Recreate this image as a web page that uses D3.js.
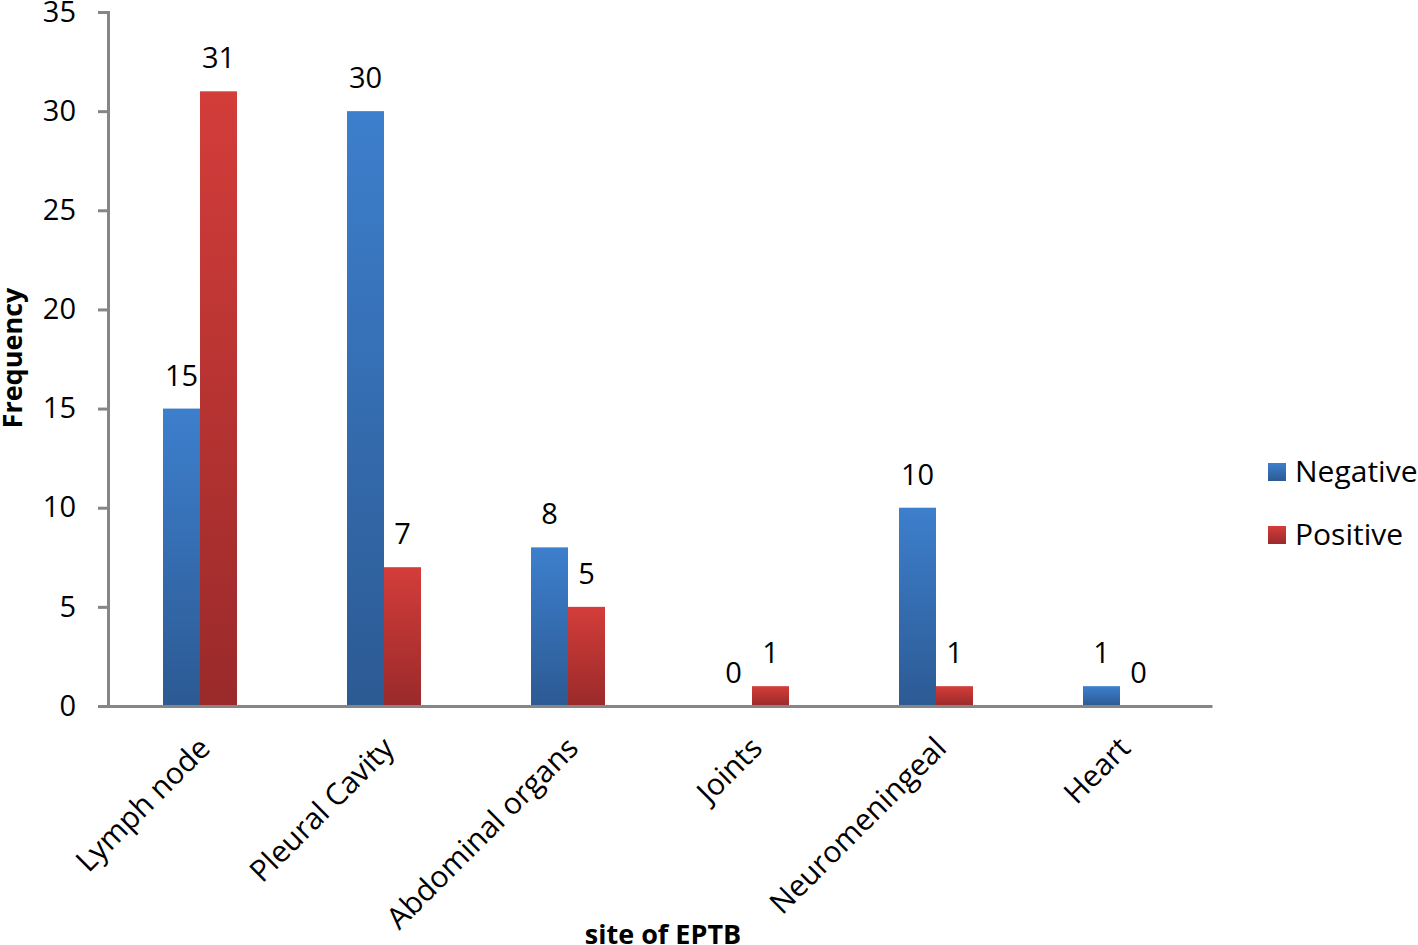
<!DOCTYPE html>
<html>
<head>
<meta charset="utf-8">
<script src="https://cdn.jsdelivr.net/npm/d3@7"></script>
<style>
  body { margin: 0; background: #fff; }
  svg { display: block; font-family: "Open Sans", sans-serif; }
</style>
</head>
<body>
<div id="chart"></div>
<script>
var categories = ["Lymph node", "Pleural Cavity", "Abdominal organs", "Joints", "Neuromeningeal", "Heart"];
var seriesNames = ["Negative", "Positive"];
var negative = [15, 30, 8, 0, 10, 1];
var positive = [31, 7, 5, 1, 1, 0];
var yTicks = [0, 5, 10, 15, 20, 25, 30, 35];

var width = 1418, height = 945,
  plotLeft = 108, plotRight = 1212, plotTop = 12, plotBottom = 706;

var svg = d3.select("#chart").append("svg")
  .attr("width", width)
  .attr("height", height);

var defs = svg.append("defs");
var grads = [
  {id: "gNeg", c1: "#3d7fcd", c2: "#2c5a93"},
  {id: "gPos", c1: "#d33d3a", c2: "#9a2a2a"}
];
grads.forEach(function (g) {
  var lg = defs.append("linearGradient").attr("id", g.id)
    .attr("x1", 0).attr("y1", 0).attr("x2", 0).attr("y2", 1);
  lg.append("stop").attr("offset", "0%").attr("stop-color", g.c1);
  lg.append("stop").attr("offset", "100%").attr("stop-color", g.c2);
});
var fills = ["url(#gNeg)", "url(#gPos)"];

var x = d3.scaleBand().domain(categories).range([plotLeft, plotRight]).padding(0);
var y = d3.scaleLinear().domain([0, 35]).range([plotBottom, plotTop]);
var barW = 37;

var rows = categories.map(function (c, i) {
  return {cat: c, vals: [negative[i], positive[i]]};
});

// bars
var groups = svg.selectAll("g.grp").data(rows).enter().append("g").attr("class", "grp");
groups.each(function (d) {
  var g = d3.select(this),
    cx = x(d.cat) + x.bandwidth() / 2;
  d.vals.forEach(function (v, k) {
    var bx = cx - barW + k * barW;
    if (v > 0) {
      g.append("rect")
        .attr("x", bx).attr("y", y(v))
        .attr("width", barW).attr("height", y(0) - y(v))
        .attr("fill", fills[k]);
    }
    g.append("text")
      .attr("x", bx + barW / 2)
      .attr("y", y(v) - 23)
      .attr("text-anchor", "middle")
      .style("font-size", "29px")
      .attr("fill", "#000")
      .text(v);
  });
});

// y axis
var yAxis = d3.axisLeft(y).tickValues(yTicks).tickSize(10).tickPadding(22);
var ya = svg.append("g").attr("transform", "translate(" + plotLeft + ",0)").call(yAxis);
ya.select(".domain").attr("stroke", "#868686").attr("stroke-width", 3);
ya.selectAll(".tick line").attr("stroke", "#868686").attr("stroke-width", 3);
ya.selectAll(".tick text").style("font-size", "29px").attr("fill", "#000").attr("font-family", "Open Sans");

// x axis
var xAxis = d3.axisBottom(x).tickSize(0).tickPadding(0);
var xa = svg.append("g").attr("transform", "translate(0," + plotBottom + ")").call(xAxis);
xa.select(".domain").attr("stroke", "#868686").attr("stroke-width", 3);
xa.selectAll(".tick text")
  .style("font-size", "30px").attr("fill", "#000").attr("font-family", "Open Sans")
  .attr("text-anchor", "end")
  .attr("dy", 0)
  .attr("transform", "translate(12,44) rotate(-45)");

// axis titles
svg.append("text")
  .attr("x", 663).attr("y", 944)
  .attr("text-anchor", "middle")
  .style("font-size", "27px").style("font-weight", "bold")
  .text("site of EPTB");
svg.append("text")
  .attr("transform", "translate(22,358) rotate(-90)")
  .attr("text-anchor", "middle")
  .style("font-size", "27px").style("font-weight", "bold")
  .text("Frequency");

// legend
var legend = svg.selectAll("g.leg").data(seriesNames).enter().append("g")
  .attr("class", "leg")
  .attr("transform", function (d, i) { return "translate(1268," + (463 + i * 63) + ")"; });
legend.append("rect").attr("width", 18).attr("height", 18)
  .attr("fill", function (d, i) { return fills[i]; });
legend.append("text").attr("x", 27).attr("y", 19)
  .style("font-size", "30px").text(function (d) { return d; });
</script>
</body>
</html>
